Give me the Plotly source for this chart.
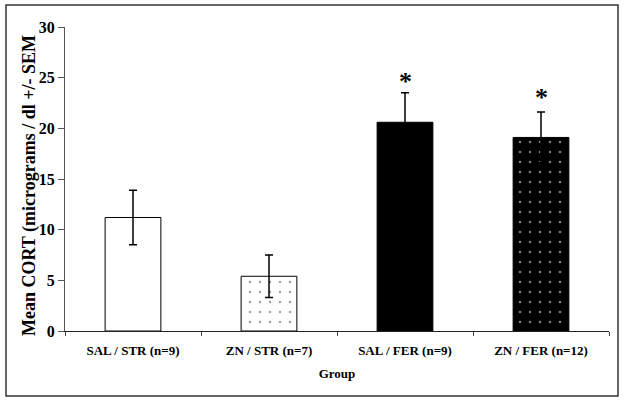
import plotly.graph_objects as go

groups = ["SAL / STR (n=9)", "ZN / STR (n=7)", "SAL / FER (n=9)", "ZN / FER (n=12)"]
means = [11.2, 5.4, 20.6, 19.1]
sems = [2.7, 2.1, 2.9, 2.5]
star_y = [None, None, 24.6, 23.0]
y_ticks = [0, 5, 10, 15, 20, 25, 30]

fill_bg = ["white", "white", "black", "black"]
fill_fg = ["white", "black", "black", "white"]
shapes_pat = ["", ".", "", "."]

W, H = 624, 403
L, R, T, B = 65, 15, 27, 72
pw, ph = W - L - R, H - T - B

fig = go.Figure()
fig.add_trace(go.Bar(
    x=groups, y=means,
    width=0.41,
    marker=dict(
        color=fill_bg,
        line=dict(color="black", width=1),
        pattern=dict(shape=shapes_pat, fgcolor=fill_fg, bgcolor=fill_bg,
                     size=10, solidity=0.05, fillmode="overlay"),
    ),
    error_y=dict(type="data", array=sems, visible=True, color="black",
                 thickness=1.5, width=4),
    showlegend=False,
))

for g, sy in zip(groups, star_y):
    if sy is not None:
        fig.add_annotation(x=g, y=sy, text="<b>*</b>", showarrow=False,
                           font=dict(family="Liberation Serif", size=26, color="black"),
                           yanchor="middle")

fig.add_annotation(xref="paper", yref="paper",
                   x=(29 - L) / pw, y=(331 - 186) / ph,
                   text="<b>Mean CORT (micrograms / dl +/- SEM</b>",
                   textangle=-90, showarrow=False,
                   font=dict(family="Liberation Serif", size=18, color="black"),
                   xanchor="center", yanchor="middle")

fig.add_shape(type="rect", xref="paper", yref="paper",
              x0=(6 - L) / pw, x1=(618 - L) / pw,
              y0=(331 - 396) / ph, y1=(331 - 5) / ph,
              line=dict(color="#333", width=1.5), fillcolor="rgba(0,0,0,0)")

fig.update_layout(
    width=W, height=H,
    margin=dict(l=L, r=R, t=T, b=B),
    paper_bgcolor="white", plot_bgcolor="white",
    font=dict(family="Liberation Serif", color="black"),
    bargap=0.59,
)
fig.update_xaxes(
    showline=True, linecolor="#222", linewidth=1.2,
    ticks="outside", tickson="boundaries", ticklen=4, tickcolor="#444",
    ticklabelstandoff=7,
    tickfont=dict(size=13, family="Liberation Serif", weight="bold"),
    title=dict(text="<b>Group</b>", font=dict(size=13), standoff=12),
    showgrid=False,
)
fig.update_yaxes(
    range=[0, 30], tickvals=y_ticks,
    showline=True, linecolor="#555", linewidth=1.2,
    ticks="outside", ticklen=6, tickcolor="#555",
    tickfont=dict(size=16, family="Liberation Serif", weight="bold"),
    showgrid=False, zeroline=False,
)

fig.write_html("out.html", config={"displayModeBar": False},
               post_script="document.body.style.margin='0';document.body.style.overflow='hidden';")
